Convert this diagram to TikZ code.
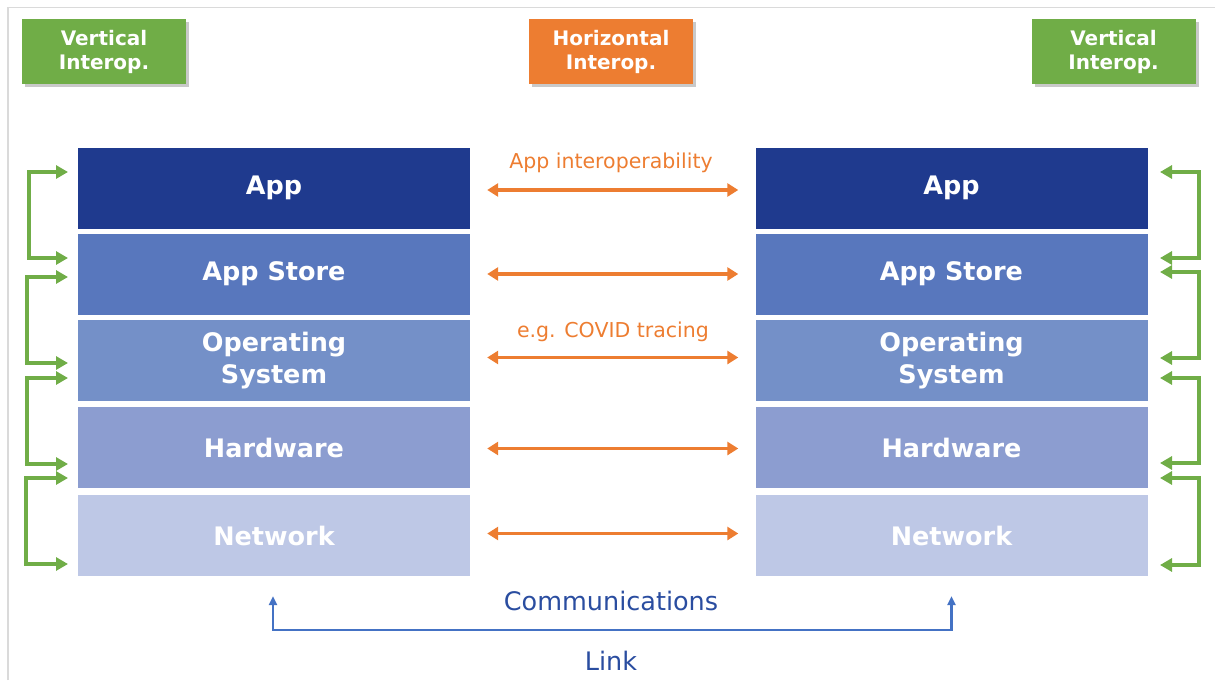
\documentclass[tikz,border=0pt]{standalone}
\usepackage{fontspec}
\setmainfont{DejaVu Sans}
\usetikzlibrary{arrows.meta,shadows,calc}

\definecolor{appc}{HTML}{1F3A8E}
\definecolor{storec}{HTML}{5877BD}
\definecolor{osc}{HTML}{7490C8}
\definecolor{hwc}{HTML}{8C9DD0}
\definecolor{netc}{HTML}{BEC8E6}
\definecolor{vgreen}{HTML}{70AD47}
\definecolor{horange}{HTML}{ED7D31}
\definecolor{linkline}{HTML}{4472C4}
\definecolor{linktext}{HTML}{2A4DA0}
\definecolor{framec}{HTML}{DADADA}

\tikzset{
  layer/.style={rectangle, minimum width=392pt, minimum height=81pt, inner sep=0pt,
    text=white, align=center, font=\fontsize{25.5}{32}\selectfont\bfseries},
  tagbox/.style={rectangle, minimum width=164pt, minimum height=65pt, inner sep=0pt,
    text=white, align=center, font=\fontsize{20}{24}\selectfont\bfseries,
    drop shadow={shadow xshift=3pt, shadow yshift=-3pt, opacity=0.3, fill=black!70}},
  hlink/.style={draw=horange, line width=3.6pt, {Triangle[length=11pt,width=13pt]}-{Triangle[length=11pt,width=13pt]}},
  vlink/.style={draw=vgreen, line width=3.2pt, {Triangle[length=12pt,width=13pt]}-{Triangle[length=12pt,width=13pt]}},
  clink/.style={draw=linkline, line width=2.5pt, {Triangle[length=9pt,width=8pt]}-{Triangle[length=9pt,width=8pt]}},
  olabel/.style={text=horange, font=\fontsize{20.5}{24}\selectfont},
  blabel/.style={text=linktext, font=\fontsize{25.5}{30}\selectfont}
}

\begin{document}
\begin{tikzpicture}[x=1pt,y=-1pt]
  \useasboundingbox (0,0) rectangle (1215,680);
  % page frame (top and left edges)
  \draw[framec, line width=1.4pt] (8,680) -- (8,7.5) -- (1215,7.5);

  % headline tags
  \node[tagbox, fill=vgreen]   (tagL) at (104,51.5)    {Vertical\\Interop.};
  \node[tagbox, fill=horange]  (tagH) at (611,51.5)    {Horizontal\\Interop.};
  \node[tagbox, fill=vgreen]   (tagR) at (1113.5,51.5) {Vertical\\Interop.};

  % left stack
  \node[layer, fill=appc]   (LApp) at (274,188)   {App};
  \node[layer, fill=storec] (LSto) at (274,274)   {App Store};
  \node[layer, fill=osc]    (LOS)  at (274,360.5) {Operating\\System};
  \node[layer, fill=hwc]    (LHW)  at (274,447.5) {Hardware};
  \node[layer, fill=netc]   (LNet) at (274,535.5) {Network};

  % right stack
  \node[layer, fill=appc]   (RApp) at (951.5,188)   {App};
  \node[layer, fill=storec] (RSto) at (951.5,274)   {App Store};
  \node[layer, fill=osc]    (ROS)  at (951.5,360.5) {Operating\\System};
  \node[layer, fill=hwc]    (RHW)  at (951.5,447.5) {Hardware};
  \node[layer, fill=netc]   (RNet) at (951.5,535.5) {Network};

  % horizontal interoperability arrows
  \draw[hlink] ([xshift=17pt,yshift=-2pt]LApp.east) -- ([xshift=-17pt,yshift=-2pt]RApp.west);
  \draw[hlink] ([xshift=17pt]LSto.east) -- ([xshift=-17pt]RSto.west);
  \draw[hlink] ([xshift=17pt,yshift=3pt]LOS.east) -- ([xshift=-17pt,yshift=3pt]ROS.west);
  \draw[hlink] ([xshift=17pt,yshift=-1pt]LHW.east) -- ([xshift=-17pt,yshift=-1pt]RHW.west);
  \draw[hlink] ([xshift=17pt,yshift=2pt]LNet.east) -- ([xshift=-17pt,yshift=2pt]RNet.west);
  \node[olabel] (appint) at (611,163) {App interoperability};
  \node[olabel] (covid)  at (613,332) {e.g. COVID tracing};

  % vertical interoperability brackets, left side
  \coordinate (l1a) at (68,172); \coordinate (l1b) at (68,258);
  \coordinate (l2a) at (68,277); \coordinate (l2b) at (68,363);
  \coordinate (l3a) at (68,378); \coordinate (l3b) at (68,464);
  \coordinate (l4a) at (68,478); \coordinate (l4b) at (68,564);
  \draw[vlink] (l1a) -- (29,172) -- (29,258) -- (l1b);
  \draw[vlink] (l2a) -- (27,277) -- (27,363) -- (l2b);
  \draw[vlink] (l3a) -- (27,378) -- (27,464) -- (l3b);
  \draw[vlink] (l4a) -- (26,478) -- (26,564) -- (l4b);

  % vertical interoperability brackets, right side
  \coordinate (r1a) at (1160,172); \coordinate (r1b) at (1160,258);
  \coordinate (r2a) at (1160,272); \coordinate (r2b) at (1160,358);
  \coordinate (r3a) at (1160,378); \coordinate (r3b) at (1160,463);
  \coordinate (r4a) at (1160,478); \coordinate (r4b) at (1160,565);
  \draw[vlink] (r1a) -- (1199,172) -- (1199,258) -- (r1b);
  \draw[vlink] (r2a) -- (1199,272) -- (1199,358) -- (r2b);
  \draw[vlink] (r3a) -- (1199,378) -- (1199,463) -- (r3b);
  \draw[vlink] (r4a) -- (1199,478) -- (1199,565) -- (r4b);

  % communications link between the two networks
  \draw[clink] ([xshift=-1pt,yshift=-20pt]LNet.south) -- ++(0,34) -| ([yshift=-20pt]RNet.south);
  \node[blabel] (comm) at (611,601) {Communications};
  \node[blabel] (link) at (611,661) {Link};
\end{tikzpicture}
\end{document}
